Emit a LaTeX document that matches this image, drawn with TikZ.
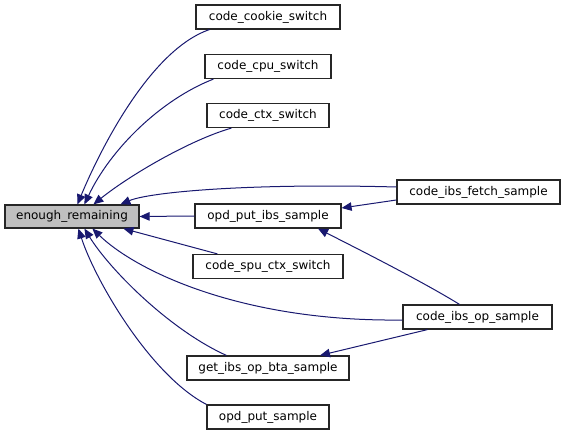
\documentclass[tikz,border=0pt]{standalone}
\usepackage{fontspec}
\setmainfont{DejaVu Sans}
\usepackage{tikz}
\usetikzlibrary{
    arrows.meta
}
\definecolor{EdgeBlue}{RGB}{25,25,112}
\definecolor{BoxGray}{RGB}{191,191,191}

\begin{document}
\begin{tikzpicture}[
    x=1pt, y=-1pt,
    >={Triangle[length=10pt,width=8.5pt]},
    func/.style={draw=black!85, line width=1.2pt, fill=white,
        minimum height=24pt, inner sep=0pt,
        font=\fontsize{12}{14}\selectfont},
    call/.style={<-, EdgeBlue, line width=1pt}
]

\useasboundingbox (0,0) rectangle (565,435);

\node[func, fill=BoxGray, minimum width=134pt, minimum height=23pt]
    (remain) at (72,216.5) {enough\_remaining};

\node[func, minimum width=144pt] (cookie) at (268,17) {code\_cookie\_switch};
\node[func, minimum width=126pt] (cpu) at (268,66.5) {code\_cpu\_switch};
\node[func, minimum width=122pt] (ctx) at (268,115.5) {code\_ctx\_switch};
\node[func, minimum width=163pt] (fetch) at (478.5,192) {code\_ibs\_fetch\_sample};
\node[func, minimum width=146pt] (putibs) at (268,216) {opd\_put\_ibs\_sample};
\node[func, minimum width=150pt] (spu) at (268,266.5) {code\_spu\_ctx\_switch};
\node[func, minimum width=149pt] (opsample) at (477.5,317) {code\_ibs\_op\_sample};
\node[func, minimum width=162pt] (bta) at (268,368) {get\_ibs\_op\_bta\_sample};
\node[func, minimum width=122pt] (putsample) at (268,417) {opd\_put\_sample};

\draw[call]
    ([xshift=73pt]remain.north west) .. controls (100,150) and (150,50) ..
    ([xshift=14pt]cookie.south west);

\draw[call]
    ([xshift=80pt]remain.north west) .. controls (110,150) and (160,100) ..
    ([xshift=9pt]cpu.south west);

\draw[call]
    ([xshift=89pt]remain.north west) .. controls (130,175) and (190,140) ..
    ([xshift=25pt]ctx.south west);

\draw[call]
    ([xshift=116pt]remain.north west) .. controls (150,192) and (250,183) ..
    ([yshift=5pt]fetch.west);

\draw[call]
    (remain.east) -- (putibs.west);

\draw[call]
    ([xshift=119pt]remain.south west) -- ([xshift=25pt]spu.north west);

\draw[call]
    ([xshift=88pt]remain.south west) .. controls (135,270) and (240,322) ..
    ([yshift=-3pt]opsample.west);

\draw[call]
    ([xshift=80pt]remain.south west) .. controls (110,270) and (170,330) ..
    ([xshift=40pt]bta.north west);

\draw[call]
    ([xshift=74pt]remain.south west) .. controls (95,280) and (150,375) ..
    (putsample.north west);

\draw[call]
    ([yshift=8pt]putibs.east) -- ([yshift=-8pt]fetch.west);

\draw[call]
    ([xshift=50pt]putibs.south) .. controls (350,245) and (420,280) ..
    ([xshift=-18pt]opsample.north);

\draw[call]
    ([xshift=52pt]bta.north) -- ([xshift=-50pt]opsample.south);

\end{tikzpicture}
\end{document}
